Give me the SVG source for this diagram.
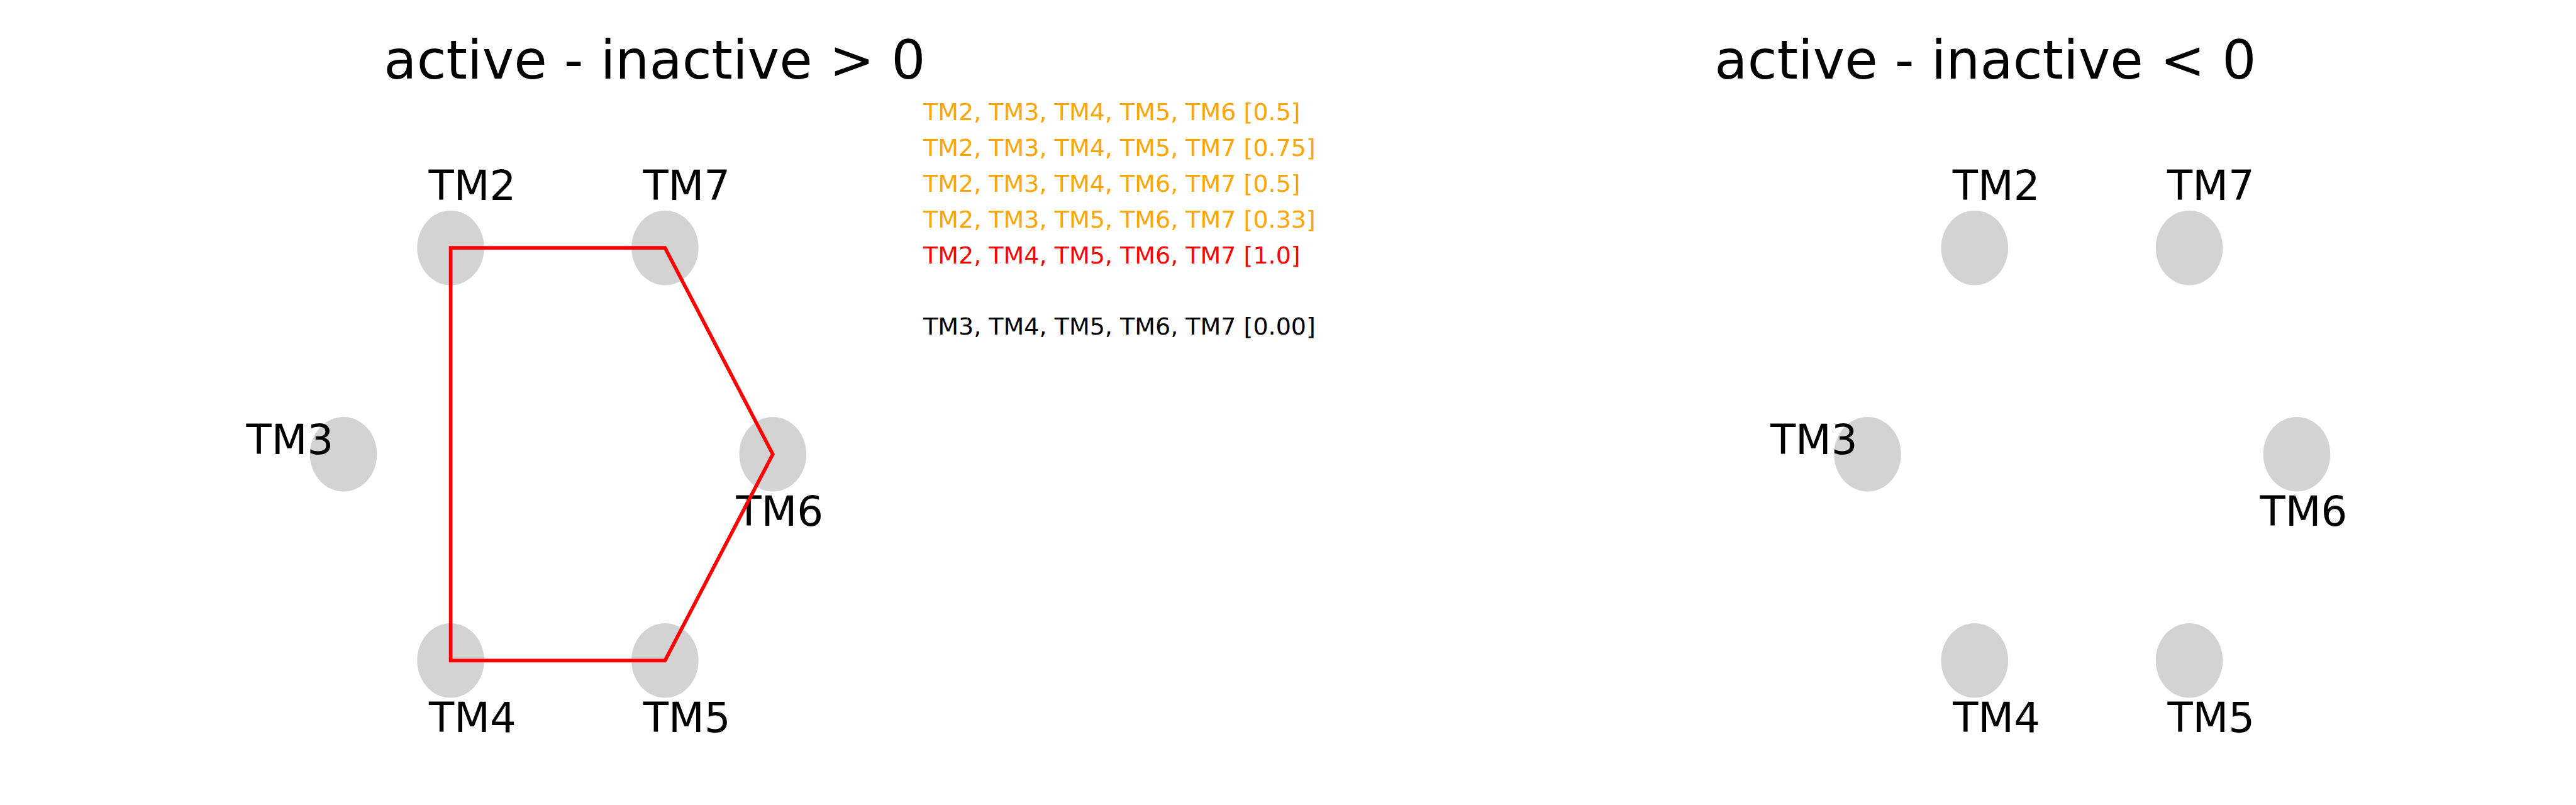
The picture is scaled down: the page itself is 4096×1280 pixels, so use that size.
<svg xmlns="http://www.w3.org/2000/svg" width="4096" height="1280" viewBox="0 0 4096 1280">
<style>
  text { font-family: "DejaVu Sans", "Liberation Sans", sans-serif; }
  .title { font-size: 85.3px; fill: #000; text-anchor: middle; }
  .lbl { font-size: 65.8px; fill: #000; text-anchor: middle; }
  .node { fill: #D3D3D3; }
  .item { font-size: 38px; }
  .orange { fill: #FFA500; }
  .red { fill: #FF0000; }
  .black { fill: #000000; }
  .edge { fill: none; stroke: #FF0000; stroke-width: 5.7; stroke-linejoin: miter; stroke-linecap: square; }
</style>
<rect width="4096" height="1280" fill="#FFFFFF"/>

<text class="title" x="1041" y="125.2">active - inactive &gt; 0</text>
<text class="title" x="3157" y="125.2">active - inactive &lt; 0</text>

<!-- left panel nodes -->
<g id="L_TM2"><ellipse class="node" cx="716.6" cy="394.1" rx="53.3" ry="59.3"/><text class="lbl" x="751" y="318.4">TM2</text></g>
<g id="L_TM7"><ellipse class="node" cx="1057.4" cy="394.1" rx="53.3" ry="59.3"/><text class="lbl" x="1091.8" y="318.4">TM7</text></g>
<g id="L_TM3"><ellipse class="node" cx="546.1" cy="722.2" rx="53.3" ry="59.3"/><text class="lbl" x="460.9" y="722.2">TM3</text></g>
<g id="L_TM6"><ellipse class="node" cx="1228.8" cy="722.2" rx="53.3" ry="59.3"/><text class="lbl" x="1239.8" y="836">TM6</text></g>
<g id="L_TM4"><ellipse class="node" cx="716.6" cy="1050.3" rx="53.3" ry="59.3"/><text class="lbl" x="751.4" y="1164.1">TM4</text></g>
<g id="L_TM5"><ellipse class="node" cx="1057.4" cy="1050.3" rx="53.3" ry="59.3"/><text class="lbl" x="1092.2" y="1164.1">TM5</text></g>

<!-- connectors -->
<g id="connectors">
  <path class="edge" d="M716.6,394.1 L1057.4,394.1 L1228.8,722.2 L1057.4,1050.3 L716.6,1050.3 Z"/>
</g>

<!-- combination list -->
<g id="combinations" class="item">
  <text class="orange" x="1468" y="191.3">TM2, TM3, TM4, TM5, TM6 [0.5]</text>
  <text class="orange" x="1468" y="248.2">TM2, TM3, TM4, TM5, TM7 [0.75]</text>
  <text class="orange" x="1468" y="305.1">TM2, TM3, TM4, TM6, TM7 [0.5]</text>
  <text class="orange" x="1468" y="362.1">TM2, TM3, TM5, TM6, TM7 [0.33]</text>
  <text class="red" x="1468" y="418.9">TM2, TM4, TM5, TM6, TM7 [1.0]</text>
  <text class="black" x="1468" y="532.2">TM3, TM4, TM5, TM6, TM7 [0.00]</text>
</g>

<!-- right panel nodes -->
<g id="R_TM2"><ellipse class="node" cx="3139.8" cy="394.1" rx="53.3" ry="59.3"/><text class="lbl" x="3174.2" y="318.4">TM2</text></g>
<g id="R_TM7"><ellipse class="node" cx="3481" cy="394.1" rx="53.3" ry="59.3"/><text class="lbl" x="3515.4" y="318.4">TM7</text></g>
<g id="R_TM3"><ellipse class="node" cx="2969.5" cy="722.2" rx="53.3" ry="59.3"/><text class="lbl" x="2884.3" y="722.2">TM3</text></g>
<g id="R_TM6"><ellipse class="node" cx="3652" cy="722.2" rx="53.3" ry="59.3"/><text class="lbl" x="3663" y="836">TM6</text></g>
<g id="R_TM4"><ellipse class="node" cx="3139.8" cy="1050.3" rx="53.3" ry="59.3"/><text class="lbl" x="3174.6" y="1164.1">TM4</text></g>
<g id="R_TM5"><ellipse class="node" cx="3481" cy="1050.3" rx="53.3" ry="59.3"/><text class="lbl" x="3515.8" y="1164.1">TM5</text></g>
</svg>
